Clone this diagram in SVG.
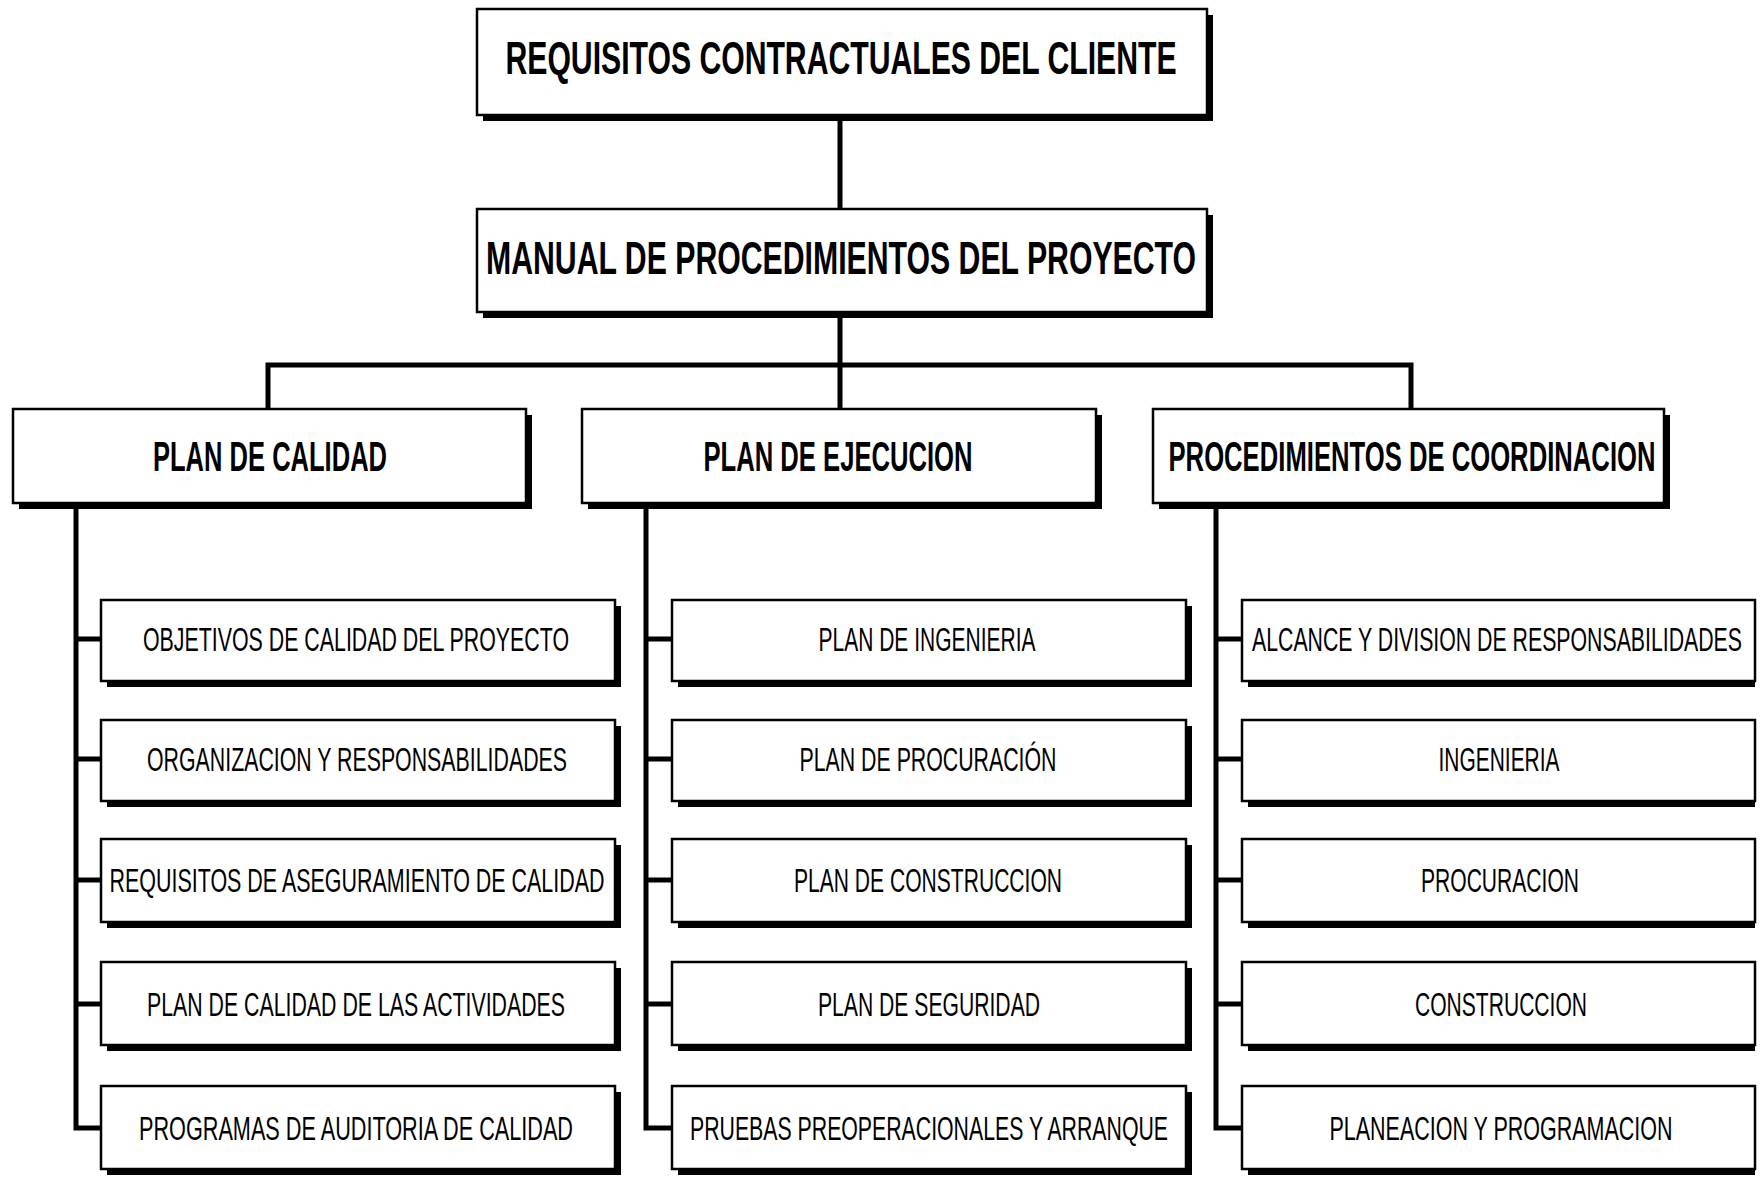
<svg xmlns="http://www.w3.org/2000/svg" width="1761" height="1179" viewBox="0 0 1761 1179">
<style>
.sh{fill:#000}
.bx{fill:#fff;stroke:#000;stroke-width:2.5}
.t1{font-family:"Liberation Sans Narrow","Liberation Sans",Arial,sans-serif;font-weight:bold;font-size:46px;text-anchor:middle;fill:#000}
.t2{font-family:"Liberation Sans Narrow","Liberation Sans",Arial,sans-serif;font-weight:bold;font-size:42px;text-anchor:middle;fill:#000}
.t3{font-family:"Liberation Sans Narrow","Liberation Sans",Arial,sans-serif;font-size:34px;text-anchor:middle;fill:#000}
.cn{fill:none;stroke:#000;stroke-width:5}
</style>
<rect width="1761" height="1179" fill="#fff"/>
<g id="connectors">
<path class="cn" d="M840 115V209M840 312V365M268 409V365H1411V409M840 365V409"/>
<path class="cn" d="M76 503V1128H101M76 639H101M76 759H101M76 880H101M76 1004H101"/>
<path class="cn" d="M646 503V1128H672M646 639H672M646 759H672M646 880H672M646 1004H672"/>
<path class="cn" d="M1216 503V1128H1242M1216 639H1242M1216 759H1242M1216 880H1242M1216 1004H1242"/>
</g>
<g id="n-req">
<rect class="sh" x="483" y="15" width="730" height="106"/>
<rect class="bx" x="477" y="9" width="730" height="106"/>
<text class="t1" x="841" y="74" textLength="671" lengthAdjust="spacingAndGlyphs">REQUISITOS CONTRACTUALES DEL CLIENTE</text>
</g>
<g id="n-manual">
<rect class="sh" x="483" y="215" width="730" height="103"/>
<rect class="bx" x="477" y="209" width="730" height="103"/>
<text class="t1" x="841" y="274" textLength="710" lengthAdjust="spacingAndGlyphs">MANUAL DE PROCEDIMIENTOS DEL PROYECTO</text>
</g>
<g id="n-calidad">
<rect class="sh" x="19" y="415" width="513" height="94"/>
<rect class="bx" x="13" y="409" width="513" height="94"/>
<text class="t2" x="270" y="471" textLength="234" lengthAdjust="spacingAndGlyphs">PLAN DE CALIDAD</text>
</g>
<g id="n-ejecucion">
<rect class="sh" x="588" y="415" width="514" height="94"/>
<rect class="bx" x="582" y="409" width="514" height="94"/>
<text class="t2" x="838" y="471" textLength="269" lengthAdjust="spacingAndGlyphs">PLAN DE EJECUCION</text>
</g>
<g id="n-coord">
<rect class="sh" x="1159" y="415" width="511" height="94"/>
<rect class="bx" x="1153" y="409" width="511" height="94"/>
<text class="t2" x="1412" y="471" textLength="487" lengthAdjust="spacingAndGlyphs">PROCEDIMIENTOS DE COORDINACION</text>
</g>
<!-- column 1 -->
<g id="c1-1"><rect class="sh" x="107" y="606" width="514" height="81"/><rect class="bx" x="101" y="600" width="514" height="81"/><text class="t3" x="356" y="651" textLength="426" lengthAdjust="spacingAndGlyphs">OBJETIVOS DE CALIDAD DEL PROYECTO</text></g>
<g id="c1-2"><rect class="sh" x="107" y="726" width="514" height="81"/><rect class="bx" x="101" y="720" width="514" height="81"/><text class="t3" x="357" y="771" textLength="420" lengthAdjust="spacingAndGlyphs">ORGANIZACION Y RESPONSABILIDADES</text></g>
<g id="c1-3"><rect class="sh" x="107" y="845" width="514" height="83"/><rect class="bx" x="101" y="839" width="514" height="83"/><text class="t3" x="357" y="892" textLength="495" lengthAdjust="spacingAndGlyphs">REQUISITOS DE ASEGURAMIENTO DE CALIDAD</text></g>
<g id="c1-4"><rect class="sh" x="107" y="968" width="514" height="83"/><rect class="bx" x="101" y="962" width="514" height="83"/><text class="t3" x="356" y="1016" textLength="418" lengthAdjust="spacingAndGlyphs">PLAN DE CALIDAD DE LAS ACTIVIDADES</text></g>
<g id="c1-5"><rect class="sh" x="107" y="1092" width="514" height="83"/><rect class="bx" x="101" y="1086" width="514" height="83"/><text class="t3" x="356" y="1140" textLength="434" lengthAdjust="spacingAndGlyphs">PROGRAMAS DE AUDITORIA DE CALIDAD</text></g>
<!-- column 2 -->
<g id="c2-1"><rect class="sh" x="678" y="606" width="514" height="81"/><rect class="bx" x="672" y="600" width="514" height="81"/><text class="t3" x="927" y="651" textLength="217" lengthAdjust="spacingAndGlyphs">PLAN DE INGENIERIA</text></g>
<g id="c2-2"><rect class="sh" x="678" y="726" width="514" height="81"/><rect class="bx" x="672" y="720" width="514" height="81"/><text class="t3" x="928" y="771" textLength="257" lengthAdjust="spacingAndGlyphs">PLAN DE PROCURACIÓN</text></g>
<g id="c2-3"><rect class="sh" x="678" y="845" width="514" height="83"/><rect class="bx" x="672" y="839" width="514" height="83"/><text class="t3" x="928" y="892" textLength="268" lengthAdjust="spacingAndGlyphs">PLAN DE CONSTRUCCION</text></g>
<g id="c2-4"><rect class="sh" x="678" y="968" width="514" height="83"/><rect class="bx" x="672" y="962" width="514" height="83"/><text class="t3" x="929" y="1016" textLength="222" lengthAdjust="spacingAndGlyphs">PLAN DE SEGURIDAD</text></g>
<g id="c2-5"><rect class="sh" x="678" y="1092" width="514" height="83"/><rect class="bx" x="672" y="1086" width="514" height="83"/><text class="t3" x="929" y="1140" textLength="478" lengthAdjust="spacingAndGlyphs">PRUEBAS PREOPERACIONALES Y ARRANQUE</text></g>
<!-- column 3 -->
<g id="c3-1"><rect class="sh" x="1248" y="606" width="507" height="81"/><rect class="bx" x="1242" y="600" width="513" height="81"/><text class="t3" x="1497" y="651" textLength="490" lengthAdjust="spacingAndGlyphs">ALCANCE Y DIVISION DE RESPONSABILIDADES</text></g>
<g id="c3-2"><rect class="sh" x="1248" y="726" width="507" height="81"/><rect class="bx" x="1242" y="720" width="513" height="81"/><text class="t3" x="1499" y="771" textLength="121" lengthAdjust="spacingAndGlyphs">INGENIERIA</text></g>
<g id="c3-3"><rect class="sh" x="1248" y="845" width="507" height="83"/><rect class="bx" x="1242" y="839" width="513" height="83"/><text class="t3" x="1500" y="892" textLength="158" lengthAdjust="spacingAndGlyphs">PROCURACION</text></g>
<g id="c3-4"><rect class="sh" x="1248" y="968" width="507" height="83"/><rect class="bx" x="1242" y="962" width="513" height="83"/><text class="t3" x="1501" y="1016" textLength="172" lengthAdjust="spacingAndGlyphs">CONSTRUCCION</text></g>
<g id="c3-5"><rect class="sh" x="1248" y="1092" width="507" height="83"/><rect class="bx" x="1242" y="1086" width="513" height="83"/><text class="t3" x="1501" y="1140" textLength="343" lengthAdjust="spacingAndGlyphs">PLANEACION Y PROGRAMACION</text></g>
</svg>
